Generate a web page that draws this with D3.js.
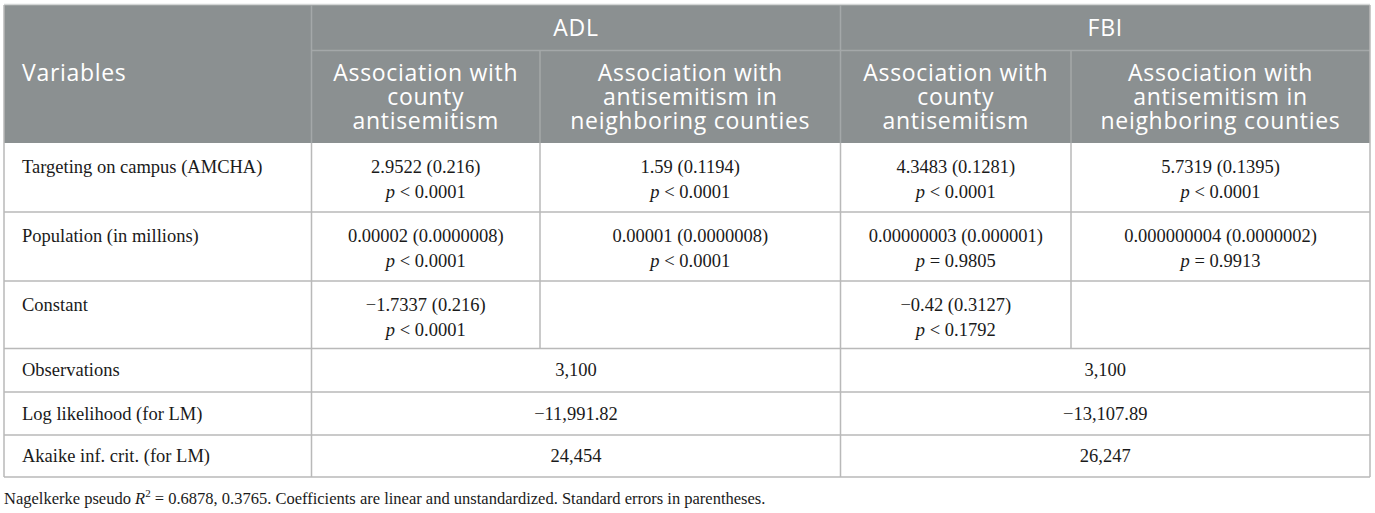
<!DOCTYPE html>
<html>
<head>
<meta charset="utf-8">
<script src="https://d3js.org/d3.v7.min.js"></script>
<style>
 body { margin: 0; background: #fff; }
</style>
</head>
<body>
<svg width="1375" height="513"></svg>
<script>
 // table content
 var groups = ["ADL", "FBI"];
 var subHeads = [
     ["Association with", "county", "antisemitism"],
     ["Association with", "antisemitism in", "neighboring counties"],
     ["Association with", "county", "antisemitism"],
     ["Association with", "antisemitism in", "neighboring counties"]
 ];
 var variables = ["Targeting on campus (AMCHA)", "Population (in millions)", "Constant",
                  "Observations", "Log likelihood (for LM)", "Akaike inf. crit. (for LM)"];
 var coefs = [
     ["2.9522 (0.216)", "1.59 (0.1194)", "4.3483 (0.1281)", "5.7319 (0.1395)"],
     ["0.00002 (0.0000008)", "0.00001 (0.0000008)", "0.00000003 (0.000001)", "0.000000004 (0.0000002)"],
     ["\u22121.7337 (0.216)", "", "\u22120.42 (0.3127)", ""]
 ];
 var pvals = [
     ["< 0.0001", "< 0.0001", "< 0.0001", "< 0.0001"],
     ["< 0.0001", "< 0.0001", "= 0.9805", "= 0.9913"],
     ["< 0.0001", "", "< 0.1792", ""]
 ];
 var stats = [
     ["3,100", "3,100"],
     ["\u221211,991.82", "\u221213,107.89"],
     ["24,454", "26,247"]
 ];
 var note = ["Nagelkerke pseudo ", "R", "2", " = 0.6878, 0.3765. Coefficients are linear and unstandardized. Standard errors in parentheses."];

 // layout
 var colEdges = [4, 311.5, 540, 840.5, 1071, 1370];
 var rowEdges = [5, 50.5, 143, 212, 281, 348.5, 392, 435, 477];

 var x = d3.scaleLinear().domain([0, 5]).range([0, 5]);
 var colX = function(i) { return colEdges[x(i)]; };
 var colMid = function(a, b) { return (colX(a) + colX(b)) / 2; };
 var y = function(i) { return rowEdges[i]; };

 var svg = d3.select("svg");
 var headFill = "#8b9091", lineCol = "#b9b9b9", headLine = "#a4a8a9";
 var sans = "'Open Sans', Lato, sans-serif";
 var serif = "'Liberation Serif', 'DejaVu Serif', serif";

 // header background
 svg.append("rect").attr("x", colX(0)).attr("y", y(0))
    .attr("width", colX(5) - colX(0)).attr("height", y(2) - y(0))
    .attr("fill", headFill);
 svg.append("path").attr("d", "M " + colX(0) + " " + (y(0) - 0.5) + " L " + colX(5) + " " + (y(0) - 0.5))
    .attr("stroke", "#d4d6d6").attr("stroke-width", 1.5);

 // header inner lines
 var hg = svg.append("g").attr("stroke", headLine).attr("stroke-width", 1.5);
 hg.append("path").attr("d", "M " + colX(1) + " " + y(1) + " L " + colX(5) + " " + y(1));
 [1, 3].forEach(function(c) {
     hg.append("path").attr("d", "M " + colX(c) + " " + y(0) + " L " + colX(c) + " " + y(2));
 });
 [2, 4].forEach(function(c) {
     hg.append("path").attr("d", "M " + colX(c) + " " + y(1) + " L " + colX(c) + " " + y(2));
 });

 // header text
 var ht = svg.append("g").attr("fill", "#fff").attr("font-family", sans)
    .attr("font-size", "23px").attr("letter-spacing", "0.7px");
 ht.selectAll("text.grp").data(groups).enter().append("text")
    .attr("class", "grp")
    .attr("x", function(d, i) { return colMid(1 + 2 * i, 3 + 2 * i); })
    .attr("y", (y(0) + y(1)) / 2 + 8)
    .attr("text-anchor", "middle")
    .text(function(d) { return d; });
 ht.append("text").attr("x", colX(0) + 18).attr("y", 73 + 8).text("Variables");
 subHeads.forEach(function(lines, i) {
     ht.selectAll(null).data(lines).enter().append("text")
        .attr("x", colMid(i + 1, i + 2))
        .attr("y", function(d, j) { return 73 + 8 + j * 24; })
        .attr("text-anchor", "middle")
        .text(function(d) { return d; });
 });

 // body grid
 var bg = svg.append("g").attr("stroke", lineCol).attr("stroke-width", 1.5).attr("fill", "none");
 for (var r = 3; r < rowEdges.length; r++)
     bg.append("path").attr("d", "M " + colX(0) + " " + y(r) + " L " + colX(5) + " " + y(r));
 bg.append("path").attr("d", "M " + colX(0) + " " + y(0) + " L " + colX(0) + " " + y(8));
 bg.append("path").attr("d", "M " + colX(5) + " " + y(0) + " L " + colX(5) + " " + y(8));
 [1, 3].forEach(function(c) {
     bg.append("path").attr("d", "M " + colX(c) + " " + y(2) + " L " + colX(c) + " " + y(8));
 });
 [2, 4].forEach(function(c) {
     bg.append("path").attr("d", "M " + colX(c) + " " + y(2) + " L " + colX(c) + " " + y(5));
 });

 // body text
 var bt = svg.append("g").attr("fill", "#1a1a1a").attr("font-family", serif).attr("font-size", "18.5px");
 bt.selectAll("text.var").data(variables).enter().append("text")
    .attr("class", "var")
    .attr("x", colX(0) + 18)
    .attr("y", function(d, i) {
        return i < 3 ? y(i + 2) + 24 + 6 : (y(i + 2) + y(i + 3)) / 2 + 6;
    })
    .text(function(d) { return d; });

 coefs.forEach(function(row, r) {
     row.forEach(function(c, k) {
         if (!c) return;
         bt.append("text").attr("x", colMid(k + 1, k + 2)).attr("y", y(r + 2) + 24 + 6)
            .attr("text-anchor", "middle").text(c);
         var t = bt.append("text").attr("x", colMid(k + 1, k + 2)).attr("y", y(r + 2) + 49 + 6)
            .attr("text-anchor", "middle");
         t.append("tspan").attr("font-style", "italic").text("p");
         t.append("tspan").text(" " + pvals[r][k]);
     });
 });

 stats.forEach(function(row, r) {
     row.forEach(function(s, g) {
         bt.append("text").attr("x", colMid(1 + 2 * g, 3 + 2 * g))
            .attr("y", (y(r + 5) + y(r + 6)) / 2 + 6)
            .attr("text-anchor", "middle").text(s);
     });
 });

 // footnote
 var ft = svg.append("text").attr("x", colX(0)).attr("y", 504)
    .attr("font-family", serif).attr("font-size", "16.5px").attr("fill", "#1a1a1a");
 ft.append("tspan").text(note[0]);
 ft.append("tspan").attr("font-style", "italic").text(note[1]);
 ft.append("tspan").attr("dy", -7).attr("font-size", "11px").text(note[2]);
 ft.append("tspan").attr("dy", 7).text(note[3]);
</script>
</body>
</html>
